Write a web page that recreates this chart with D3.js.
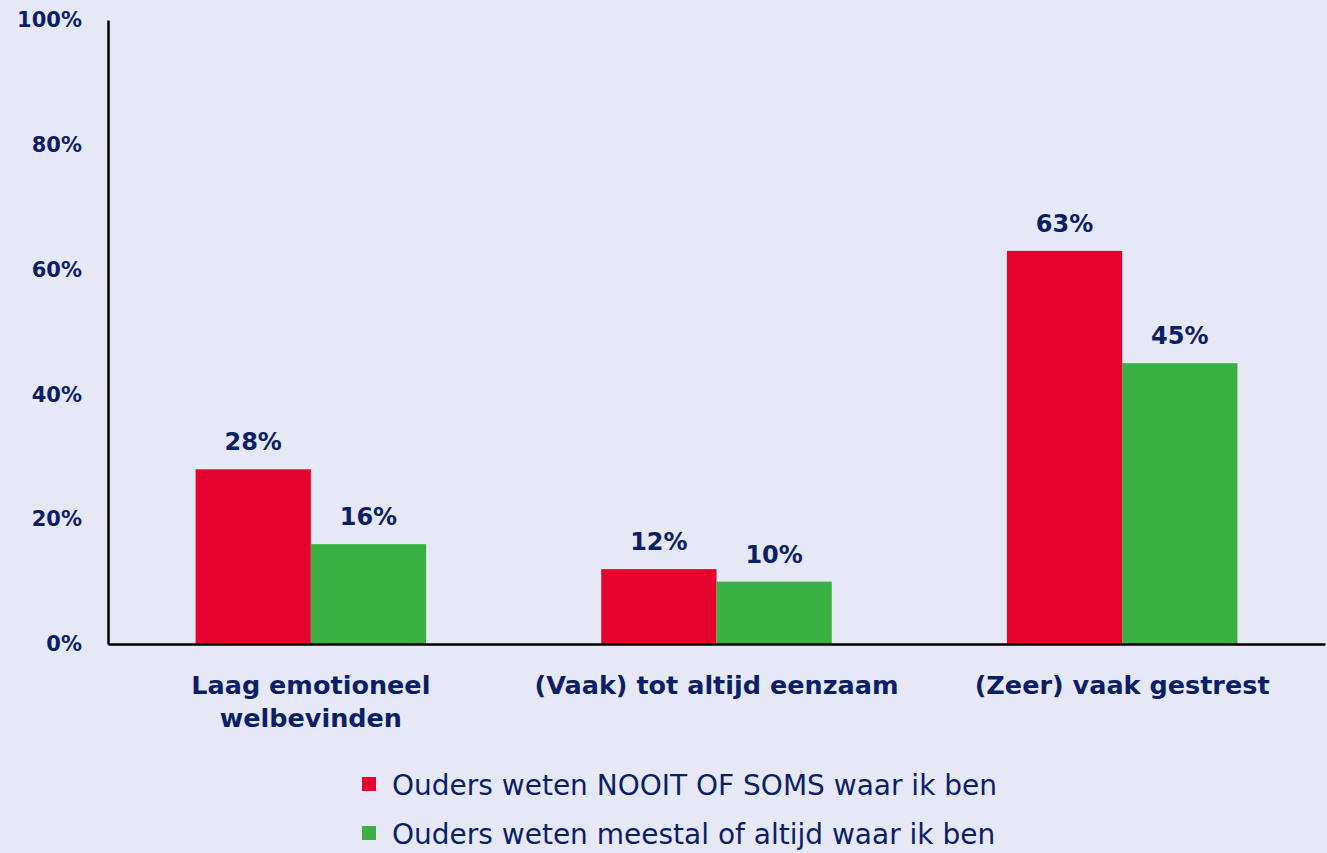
<!DOCTYPE html>
<html>
<head>
<meta charset="utf-8">
<script src="https://cdn.jsdelivr.net/npm/d3@7"></script>
<style>
  html, body { margin: 0; padding: 0; background: #E6E8F6; }
  svg { display: block; font-family: "DejaVu Sans", sans-serif; }
</style>
</head>
<body>
<svg id="chart" width="1327" height="853"></svg>
<script>
var categories = [["Laag emotioneel", "welbevinden"], ["(Vaak) tot altijd eenzaam"], ["(Zeer) vaak gestrest"]];
var seriesNames = ["Ouders weten NOOIT OF SOMS waar ik ben", "Ouders weten meestal of altijd waar ik ben"];
var seriesNooit = [28, 12, 63];
var seriesMeestal = [16, 10, 45];
var yTicks = [0, 20, 40, 60, 80, 100];
var colors = ["#E4032E", "#38B142"];

var textColor = "#0B1F66";
var svg = d3.select("#chart");
var margin = { left: 108, right: 2, top: 20, bottom: 209 };
var width = 1327, height = 853;

var x = d3.scaleBand()
  .domain(d3.range(categories.length))
  .range([margin.left, width - margin.right])
  .paddingInner(0)
  .paddingOuter(0);

var x1 = d3.scaleBand()
  .domain(d3.range(seriesNames.length))
  .range([0, x.bandwidth()])
  .paddingInner(0)
  .paddingOuter(0.76);

var y = d3.scaleLinear()
  .domain([0, 100])
  .range([height - margin.bottom, margin.top]);

var series = [seriesNooit, seriesMeestal];

// bars
var groups = svg.selectAll("g.group")
  .data(categories)
  .enter().append("g")
  .attr("class", "group")
  .attr("transform", function(d, i) { return "translate(" + x(i) + ",0)"; });

groups.each(function(c, ci) {
  var g = d3.select(this);
  series.forEach(function(s, si) {
    g.append("rect")
      .attr("x", x1(si))
      .attr("y", y(s[ci]))
      .attr("width", x1.bandwidth())
      .attr("height", y(0) - y(s[ci]))
      .attr("fill", colors[si]);
    g.append("text")
      .attr("x", x1(si) + x1.bandwidth() / 2)
      .attr("y", y(s[ci]) - 19)
      .attr("text-anchor", "middle")
      .attr("font-size", 24)
      .attr("font-weight", "bold")
      .attr("fill", textColor)
      .text(s[ci] + "%");
  });
});

// y axis
var yAxis = d3.axisLeft(y)
  .tickValues(yTicks)
  .tickSize(0)
  .tickPadding(26)
  .tickFormat(function(d) { return d + "%"; });

var yg = svg.append("g")
  .attr("transform", "translate(" + margin.left + ",0)")
  .call(yAxis);
yg.select(".domain").attr("stroke", "#000").attr("stroke-width", 2.5);
yg.selectAll("text")
  .attr("font-size", 21)
  .attr("font-weight", "bold")
  .attr("fill", textColor)
  .attr("font-family", "'DejaVu Sans', sans-serif");

// x axis
var xAxis = d3.axisBottom(x)
  .tickSize(0)
  .tickFormat("");
var xg = svg.append("g")
  .attr("transform", "translate(0," + y(0) + ")")
  .call(xAxis);
xg.select(".domain").attr("stroke", "#000").attr("stroke-width", 2.5);

// category labels
svg.selectAll("text.cat")
  .data(categories)
  .enter().append("text")
  .attr("class", "cat")
  .attr("x", function(d, i) { return x(i) + x.bandwidth() / 2; })
  .attr("y", y(0) + 50)
  .attr("text-anchor", "middle")
  .attr("font-size", 25.5)
  .attr("font-weight", "bold")
  .attr("fill", textColor)
  .each(function(d) {
    var t = d3.select(this);
    d.forEach(function(line, li) {
      t.append("tspan")
        .attr("x", t.attr("x"))
        .attr("dy", li === 0 ? 0 : 33)
        .text(line);
    });
  });

// legend
var legend = svg.selectAll("g.legend")
  .data(seriesNames)
  .enter().append("g")
  .attr("class", "legend")
  .attr("transform", function(d, i) { return "translate(362," + (777 + i * 49) + ")"; });

legend.append("rect")
  .attr("width", 14)
  .attr("height", 14)
  .attr("fill", function(d, i) { return colors[i]; });

legend.append("text")
  .attr("x", 30)
  .attr("y", 18)
  .attr("font-size", 28)
  .attr("fill", textColor)
  .text(function(d) { return d; });
</script>
</body>
</html>
